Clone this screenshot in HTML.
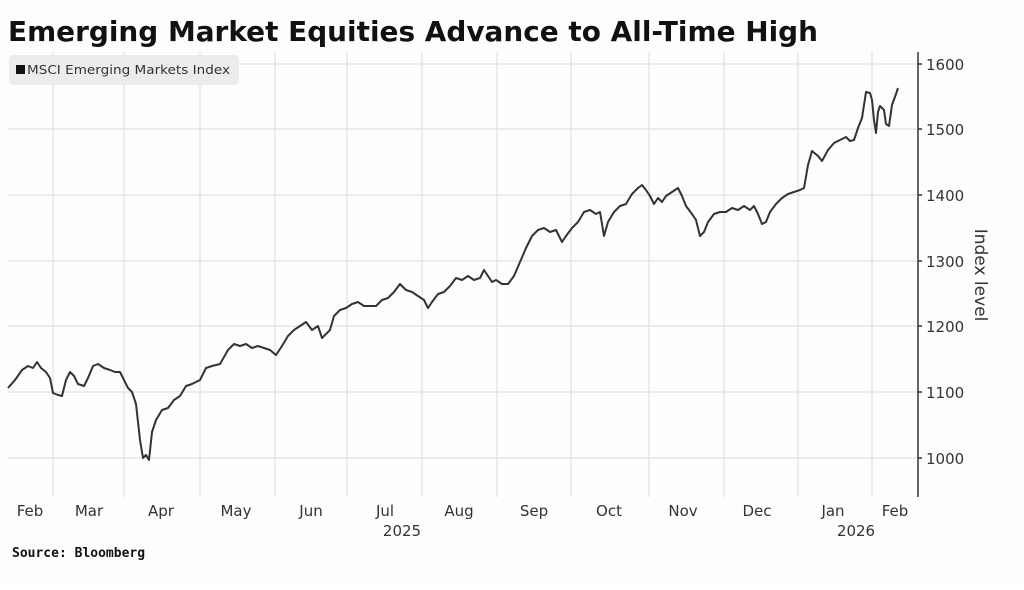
<!DOCTYPE html>
<html><head><meta charset="utf-8"><style>
body{margin:0;width:1024px;height:585px;background:#fff;overflow:hidden;font-family:"Liberation Sans",sans-serif}
</style></head><body>
<svg width="1024" height="585" xmlns="http://www.w3.org/2000/svg">
<rect width="1024" height="585" fill="#fdfdfd"/>
<text x="8" y="41" font-family="DejaVu Sans" font-weight="bold" font-size="28" fill="#111" textLength="810" lengthAdjust="spacingAndGlyphs">Emerging Market Equities Advance to All-Time High</text>
<g stroke="#e2e2e2" stroke-width="1.2">
<line x1="8" y1="64" x2="918" y2="64"/><line x1="8" y1="129" x2="918" y2="129"/><line x1="8" y1="195" x2="918" y2="195"/>
<line x1="8" y1="261" x2="918" y2="261"/><line x1="8" y1="326" x2="918" y2="326"/><line x1="8" y1="392" x2="918" y2="392"/><line x1="8" y1="458" x2="918" y2="458"/>
<line x1="53" y1="52" x2="53" y2="497"/><line x1="124" y1="52" x2="124" y2="497"/><line x1="200" y1="52" x2="200" y2="497"/><line x1="275" y1="52" x2="275" y2="497"/><line x1="347" y1="52" x2="347" y2="497"/><line x1="422" y1="52" x2="422" y2="497"/><line x1="497" y1="52" x2="497" y2="497"/><line x1="571" y1="52" x2="571" y2="497"/><line x1="649" y1="52" x2="649" y2="497"/><line x1="724" y1="52" x2="724" y2="497"/><line x1="798" y1="52" x2="798" y2="497"/><line x1="872" y1="52" x2="872" y2="497"/>
</g>
<rect x="9" y="55" width="230" height="30" rx="4" fill="#ececec"/>
<rect x="16" y="65" width="9" height="9" fill="#111"/>
<text x="27" y="74" font-family="DejaVu Sans" font-size="12" fill="#333" textLength="203" lengthAdjust="spacingAndGlyphs">MSCI Emerging Markets Index</text>
<line x1="918" y1="52" x2="918" y2="497" stroke="#333" stroke-width="1.5"/>
<g stroke="#333" stroke-width="1.5"><line x1="918" y1="64" x2="922" y2="64"/><line x1="918" y1="129" x2="922" y2="129"/><line x1="918" y1="195" x2="922" y2="195"/><line x1="918" y1="261" x2="922" y2="261"/><line x1="918" y1="326" x2="922" y2="326"/><line x1="918" y1="392" x2="922" y2="392"/><line x1="918" y1="458" x2="922" y2="458"/></g>
<g font-family="DejaVu Sans" font-size="15" fill="#333">
<text x="926" y="70">1600</text><text x="926" y="135">1500</text><text x="926" y="201">1400</text><text x="926" y="267">1300</text><text x="926" y="332">1200</text><text x="926" y="398">1100</text><text x="926" y="464">1000</text>
<text transform="translate(975,275) rotate(90)" text-anchor="middle" font-size="17">Index level</text>
</g>
<g font-family="DejaVu Sans" font-size="15" fill="#333" text-anchor="middle">
<text x="30" y="516">Feb</text><text x="89" y="516">Mar</text><text x="161" y="516">Apr</text><text x="236" y="516">May</text><text x="311" y="516">Jun</text><text x="385" y="516">Jul</text><text x="459" y="516">Aug</text><text x="534" y="516">Sep</text><text x="609" y="516">Oct</text><text x="683" y="516">Nov</text><text x="757" y="516">Dec</text><text x="833" y="516">Jan</text><text x="895" y="516">Feb</text>
<text x="402" y="536">2025</text><text x="856" y="536">2026</text>
</g>
<text x="12" y="557" font-family="DejaVu Sans Mono" font-weight="bold" font-size="13" fill="#111">Source: Bloomberg</text>
<polyline fill="none" stroke="#333" stroke-width="2" stroke-linejoin="round" points="8,388 15,380 22,370 28,366 33,368 37,362 41,368 46,372 50,378 53,393 58,395 62,396 66,380 70,372 74,376 78,384 84,386 88,378 93,366 98,364 104,368 110,370 115,372 120,372 124,380 128,388 132,392 136,404 140,440 143,458 146,455 149,460 152,432 156,420 162,410 168,408 174,400 180,396 186,386 192,384 200,380 206,368 212,366 220,364 228,350 234,344 240,346 246,344 252,348 258,346 264,348 270,350 276,355 282,346 288,336 294,330 300,326 306,322 312,330 318,326 322,338 326,334 330,330 334,316 340,310 346,308 352,304 358,302 364,306 370,306 376,306 382,300 388,298 394,292 400,284 406,290 412,292 418,296 424,300 428,308 432,302 438,294 444,292 450,286 456,278 462,280 468,276 474,280 480,278 484,270 488,276 492,282 496,280 502,284 508,284 514,276 520,262 526,248 532,236 538,230 544,228 550,232 556,230 562,242 566,236 572,228 578,222 584,212 590,210 596,214 600,212 604,236 608,222 614,212 620,206 626,204 632,194 638,188 642,185 646,190 650,196 654,204 658,198 662,202 666,196 672,192 678,188 682,196 686,206 692,214 696,220 700,236 704,232 708,222 714,214 720,212 726,212 732,208 738,210 744,206 750,210 754,206 758,214 762,224 766,222 770,212 776,204 782,198 788,194 794,192 800,190 804,188 808,165 812,151 818,156 822,161 828,150 834,143 840,140 846,137 850,141 854,140 858,128 862,118 866,92 870,93 872,100 874,120 876,133 878,112 880,106 884,110 886,124 889,126 892,105 896,94 898,88"/>
</svg>
</body></html>
